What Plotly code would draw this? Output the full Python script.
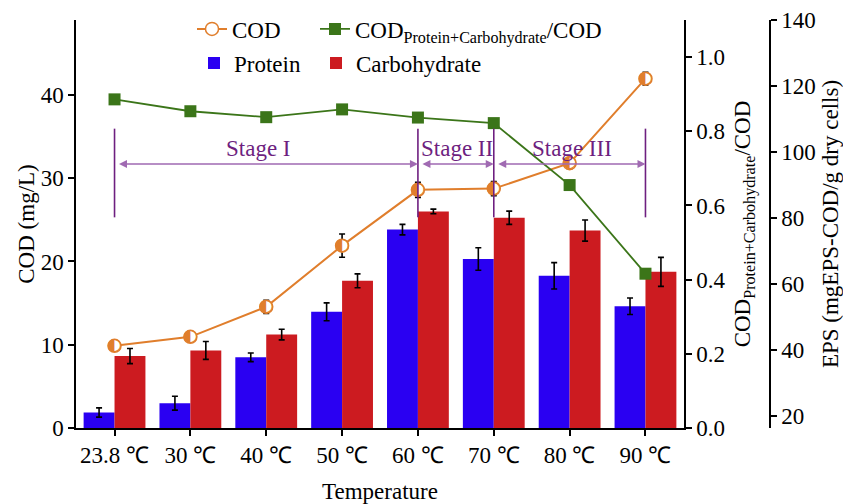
import plotly.graph_objects as go

# ---- data ----
temps = ["23.8 ℃", "30 ℃", "40 ℃", "50 ℃", "60 ℃", "70 ℃", "80 ℃", "90 ℃"]
protein = [21.1, 23.9, 37.8, 51.6, 76.5, 67.6, 62.5, 53.3]
protein_err = [1.4, 2.1, 1.3, 2.7, 1.6, 3.4, 4.0, 2.5]
carbohydrate = [38.2, 39.9, 44.7, 61.0, 82.0, 80.1, 76.2, 63.7]
carbohydrate_err = [2.3, 2.7, 1.6, 2.1, 0.7, 2.0, 3.2, 4.4]
cod = [9.87, 10.95, 14.55, 21.9, 28.6, 28.75, 31.8, 41.95]
cod_err = [0.4, 0.5, 0.78, 1.4, 0.9, 0.85, 0.66, 0.76]
ratio = [0.886, 0.854, 0.838, 0.859, 0.837, 0.822, 0.655, 0.416]

stage_names = ["Stage I", "Stage II", "Stage III"]
stage_bounds = [(0, 4), (4, 5), (5, 7)]

FONT = "Liberation Serif"
FS = 23
BLUE = "#2A00F2"
RED = "#CC1B20"
ORANGE = "#E07E2C"
GREEN = "#3B7519"
PURPLE = "#6E1F80"
PURPLE_L = "#A06AB2"

fig = go.Figure()

fig.add_trace(go.Bar(
    x=temps, y=protein, name="Protein", yaxis="y", legend="legend3",
    marker=dict(color=BLUE, line=dict(width=0)),
    error_y=dict(type="data", array=protein_err, color="black", thickness=1.6, width=3),
))
fig.add_trace(go.Bar(
    x=temps, y=carbohydrate, name="Carbohydrate", yaxis="y", legend="legend4",
    marker=dict(color=RED, line=dict(width=0)),
    error_y=dict(type="data", array=carbohydrate_err, color="black", thickness=1.6, width=3),
))
fig.add_trace(go.Scatter(
    x=temps, y=cod, name="COD", yaxis="y2", mode="lines+markers", legend="legend",
    line=dict(color=ORANGE, width=2),
    marker=dict(symbol="circle", size=13, color="white", line=dict(color=ORANGE, width=1.5)),
    error_y=dict(type="data", array=cod_err, color="black", thickness=1.6, width=3),
))
fig.add_trace(go.Scatter(
    x=temps, y=cod, yaxis="y2", mode="text", text=["◐"] * len(temps), showlegend=False,
    textfont=dict(family="DejaVu Sans", size=17, color=ORANGE), hoverinfo="skip",
))
fig.add_trace(go.Scatter(
    x=temps, y=ratio, name="COD<sub>Protein+Carbohydrate</sub>/COD", yaxis="y3",
    mode="lines+markers", legend="legend2",
    line=dict(color=GREEN, width=1.8),
    marker=dict(symbol="square", size=12, color=GREEN),
))

# stage markers (on COD axis)
for xv in [0, 4, 5, 7]:
    fig.add_shape(type="line", xref="x", yref="y2", x0=xv, x1=xv, y0=25.3, y1=35.95,
                  line=dict(color=PURPLE, width=1.6))
centers = [1.9, 4.52, 6.03]
for (a, b), name, c in zip(stage_bounds, stage_names, centers):
    fig.add_annotation(x=b, y=31.7, ax=a, ay=31.7, xref="x", yref="y2", axref="x", ayref="y2",
                       showarrow=True, arrowside="end+start", arrowhead=2, arrowsize=1,
                       arrowwidth=1.6, arrowcolor=PURPLE_L, standoff=0, startstandoff=0, text=" ")
    fig.add_annotation(x=c, y=33.6, xref="x", yref="y2", text=name, showarrow=False,
                       font=dict(family=FONT, size=FS, color=PURPLE), yanchor="middle")

dom_end = 608 / 694
axis_common = dict(showline=True, linecolor="black", linewidth=1.5, ticks="outside",
                   tickwidth=1.5, ticklen=6, tickcolor="black", showgrid=False, zeroline=False,
                   automargin=False, tickfont=dict(family=FONT, size=FS, color="black"))

def leg(xpx, ycen):
    return dict(orientation="h", x=(xpx - 76) / 694, xanchor="left",
                y=1 - (ycen - 20) / 408.5, yanchor="middle",
                bgcolor="rgba(0,0,0,0)", font=dict(family=FONT, size=FS))

fig.update_layout(
    width=843, height=504,
    margin=dict(l=76, r=73, t=20, b=75.5, autoexpand=False),
    paper_bgcolor="white", plot_bgcolor="white",
    font=dict(family=FONT, size=FS, color="black"),
    barmode="group", bargap=0.185, bargroupgap=0,
    xaxis=dict(domain=[0, dom_end], anchor="y", title=dict(text="Temperature", standoff=16,
               font=dict(family=FONT, size=FS)), **axis_common),
    yaxis=dict(anchor="free", position=1.0, side="right", range=[16.4, 140], dtick=20,
               title=dict(text="EPS (mgEPS-COD/g dry cells)", font=dict(family=FONT, size=FS), standoff=6),
               **axis_common),
    yaxis2=dict(overlaying="y", side="left", anchor="x", range=[0, 49.0], dtick=10,
                title=dict(text="COD (mg/L)", font=dict(family=FONT, size=FS), standoff=0),
                **axis_common),
    yaxis3=dict(overlaying="y", side="right", anchor="x", range=[0, 1.1], dtick=0.2, tickformat=".1f",
                title=dict(text="COD<sub>Protein+Carbohydrate</sub>/COD", font=dict(family=FONT, size=FS), standoff=9),
                **axis_common),
    legend=leg(192, 29),
    legend2=leg(315, 29),
    legend3=leg(194, 63),
    legend4=leg(316, 63),
)

fig.write_html("out.html", config={"displayModeBar": False},
               post_script="document.body.style.margin='0px';")
